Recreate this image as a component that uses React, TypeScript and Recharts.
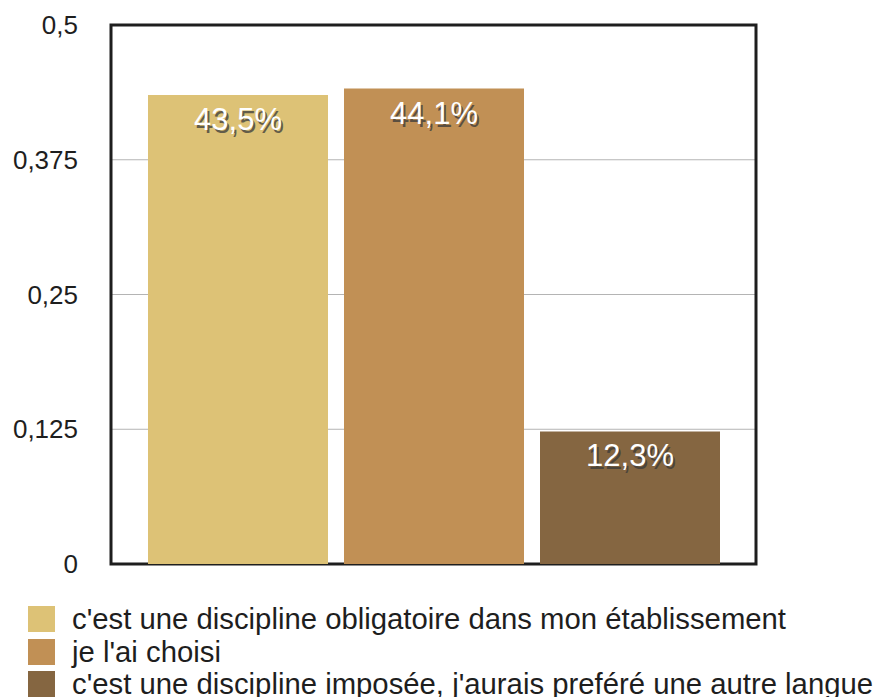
import React from 'react';
import {
  BarChart,
  Bar,
  XAxis,
  YAxis,
  CartesianGrid,
  LabelList,
  ReferenceArea,
} from 'recharts';

const seriesNames = [
  "c'est une discipline obligatoire dans mon établissement",
  "je l'ai choisi",
  "c'est une discipline imposée, j'aurais preféré une autre langue",
];
const seriesValues = [0.435, 0.441, 0.123];
const seriesColors = ['#ddc276', '#c19055', '#856641'];
const yTicks = [0, 0.125, 0.25, 0.375, 0.5];

const FONT = '"Liberation Sans", Arial, Helvetica, sans-serif';

const row: Record<string, string | number> = { name: '' };
seriesValues.forEach((v, i) => {
  row['s' + i] = v;
});
const data = [row];

const fmtTick = (v: number) => String(v).replace('.', ',');
const fmtPct = (v: number) => (v * 100).toFixed(1).replace('.', ',') + '%';

function BarLabel(props: any) {
  const { x, y, width, value } = props;
  const cx = Number(x) + Number(width) / 2;
  const by = Number(y) + 35;
  const txt = fmtPct(Number(value));
  return (
    <g style={{ fontFamily: FONT, fontSize: 31 }}>
      <text x={cx + 2} y={by + 3} textAnchor="middle" fill="#3a3a3a" fillOpacity={0.75}>
        {txt}
      </text>
      <text x={cx} y={by} textAnchor="middle" fill="#ffffff">
        {txt}
      </text>
    </g>
  );
}

export default function App() {
  return (
    <div style={{ position: 'relative', width: 875, height: 697, background: '#fff', overflow: 'hidden' }}>
      <style>{`body{margin:0}`}</style>
      <BarChart
        width={875}
        height={697}
        data={data}
        margin={{ top: 25, right: 119, bottom: 0, left: 0 }}
        barCategoryGap={37}
        barGap={16}
      >
        <CartesianGrid vertical={false} stroke="#b4b4b4" strokeWidth={1} />
        <XAxis
          dataKey="name"
          height={133}
          tick={false}
          tickLine={false}
          axisLine={false}
        />
        <YAxis
          width={111}
          domain={[0, 0.5]}
          ticks={yTicks}
          tickFormatter={fmtTick}
          tickLine={false}
          tickSize={0}
          tickMargin={33}
          interval={0}
          tick={{ fill: '#1e1e1e', fontSize: 26, fontFamily: FONT }}
          axisLine={false}
        />
        {seriesValues.map((_, i) => (
          <Bar
            key={i}
            dataKey={'s' + i}
            name={seriesNames[i]}
            fill={seriesColors[i]}
            isAnimationActive={false}
          >
            <LabelList dataKey={'s' + i} content={BarLabel} />
          </Bar>
        ))}
        <ReferenceArea
          y1={0}
          y2={0.5}
          fill="none"
          fillOpacity={0}
          stroke="#1e1e1e"
          strokeWidth={3}
          ifOverflow="visible"
        />
      </BarChart>
      <div
        style={{
          position: 'absolute',
          left: 28,
          top: 603,
          fontFamily: FONT,
          fontSize: 29.3,
          color: '#1e1e1e',
        }}
      >
        {seriesNames.map((n, i) => (
          <div
            key={i}
            style={{ display: 'flex', alignItems: 'center', height: 32.5, whiteSpace: 'nowrap' }}
          >
            <span
              style={{
                display: 'inline-block',
                width: 27,
                height: 26,
                background: seriesColors[i],
                marginRight: 17,
              }}
            />
            <span>{n}</span>
          </div>
        ))}
      </div>
    </div>
  );
}
